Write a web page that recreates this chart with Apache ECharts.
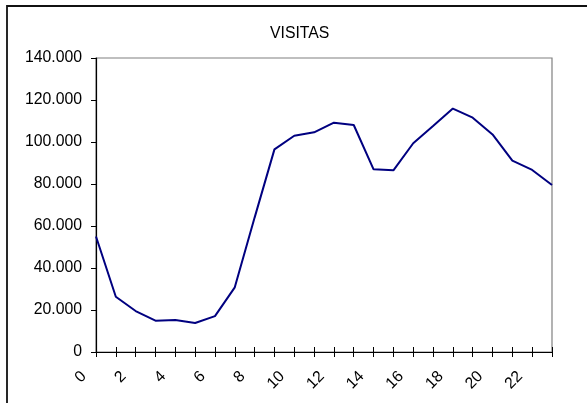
<!DOCTYPE html>
<html>
<head>
<meta charset="utf-8">
<script src="https://cdn.jsdelivr.net/npm/echarts@6/dist/echarts.min.js"></script>
<style>
html,body{margin:0;padding:0;background:#fff;}
#c{width:587px;height:403px;}
</style>
</head>
<body>
<div id="c"></div>
<script>
const titleText = 'VISITAS';
const hours = ['0','1','2','3','4','5','6','7','8','9','10','11','12','13','14','15','16','17','18','19','20','21','22','23'];
const visitas = [55000, 26300, 19500, 14900, 15200, 13800, 17100, 30800, 64000, 96500, 103000, 104600, 109200, 108100, 87000, 86500, 99400, 107600, 115900, 111600, 103600, 91100, 86700, 79500];
const yMin = 0, yMax = 140000, yStep = 20000;

const FONT = 'Arial, "Liberation Sans", sans-serif';
const FS = 15.8;
const chart = echarts.init(document.getElementById('c'), null, {renderer: 'canvas'});
chart.setOption({
  animation: false,
  backgroundColor: '#fff',
  title: {
    text: titleText,
    left: 270, top: 26,
    padding: 0,
    textStyle: {fontFamily: FONT, fontSize: FS, fontWeight: 'normal', color: '#000'}
  },
  graphic: [{
    type: 'rect', silent: true, z: -1,
    shape: {x: 7, y: 6, width: 620, height: 430},
    style: {fill: 'none', stroke: '#111', lineWidth: 1.8}
  }],
  grid: {
    left: 96, top: 58, right: 35, bottom: 51,
    show: true, borderColor: '#808080', borderWidth: 1.2, backgroundColor: '#fff'
  },
  xAxis: [{
    type: 'category', data: hours, boundaryGap: false, position: 'bottom',
    axisLine: {lineStyle: {color: '#000', width: 1.2}},
    axisTick: {show: true, interval: 0, length: 5, lineStyle: {color: '#000', width: 1}},
    axisLabel: {
      interval: 1, rotate: 45, margin: 10,
      padding: [0, 17, 0, 0],
      fontFamily: FONT, fontSize: FS, color: '#000'
    },
    splitLine: {show: false}
  }, {
    type: 'category', data: hours, boundaryGap: false, position: 'bottom', offset: 0,
    axisLine: {show: false},
    axisTick: {show: true, inside: true, interval: 0, length: 5, lineStyle: {color: '#000', width: 1}},
    axisLabel: {show: false},
    splitLine: {show: false}
  }],
  yAxis: {
    type: 'value', min: yMin, max: yMax, interval: yStep,
    axisLine: {show: true, lineStyle: {color: '#000', width: 1.2}},
    axisTick: {show: true, length: 5, lineStyle: {color: '#000', width: 1}},
    axisLabel: {
      margin: 14, fontFamily: FONT, fontSize: FS, color: '#000',
      formatter: v => v === 0 ? '0' : (v / 1000) + '.000'
    },
    splitLine: {show: false}
  },
  series: [{
    type: 'line', data: visitas, xAxisIndex: 0,
    symbol: 'none', smooth: false,
    lineStyle: {color: '#000080', width: 2}
  }]
});
</script>
</body>
</html>
